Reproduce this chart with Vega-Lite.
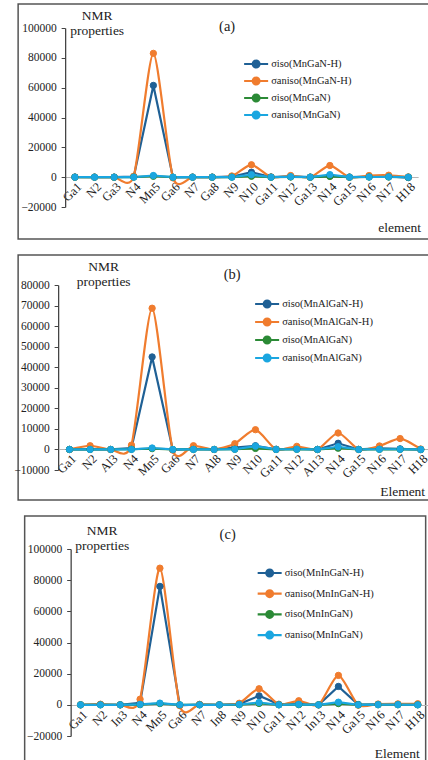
{
  "$schema": "https://vega.github.io/schema/vega-lite/v6.json",
  "padding": {"left": 13, "top": 3, "right": 0, "bottom": 0},
  "background": "white",
  "spacing": 14,
  "center": true,
  "resolve": {"scale": {"x": "independent", "y": "independent", "stroke": "independent", "fill": "independent"}, "legend": {"stroke": "independent", "fill": "independent"}},
  "config": {
    "view": {"stroke": "#555555", "strokeWidth": 1.5, "fill": "white"},
    "font": "Liberation Serif",
    "axis": {"grid": false, "labelFont": "Liberation Serif", "labelFontSize": 11.5, "labelColor": "#222222", "titleFont": "Liberation Serif", "titleFontWeight": "normal", "titleFontSize": 13.5, "titleColor": "#222222"},
    "axisY": {"tickSize": 4, "tickColor": "#444444", "domainColor": "#444444", "domainWidth": 1.3, "labelPadding": 5, "format": "d", "titleAngle": 0, "titleAlign": "center", "titleBaseline": "alphabetic", "titleLineHeight": 15},
    "legend": {"orient": "none", "title": null, "padding": 0, "labelFont": "Liberation Serif", "labelFontSize": 10.5, "labelColor": "#222222", "labelOffset": 6, "symbolType": "M-1.6,0L1.6,0M0.45,0A0.45,0.45,0,1,1,-0.45,0A0.45,0.45,0,1,1,0.45,0Z", "symbolSize": 225, "symbolStrokeWidth": 2.2},
    "title": {"font": "Liberation Serif", "fontWeight": "normal", "fontSize": 14.5, "color": "#222222", "anchor": "middle", "offset": 0, "baseline": "alphabetic"}
  },
  "datasets": {
    "a": [
      {"el":"Ga1","s":"isoH","v":100},{"el":"N2","s":"isoH","v":50},{"el":"Ga3","s":"isoH","v":50},{"el":"N4","s":"isoH","v":300},{"el":"Mn5","s":"isoH","v":61500},{"el":"Ga6","s":"isoH","v":-200},{"el":"N7","s":"isoH","v":50},{"el":"Ga8","s":"isoH","v":30},{"el":"N9","s":"isoH","v":300},{"el":"N10","s":"isoH","v":3300},{"el":"Ga11","s":"isoH","v":100},{"el":"N12","s":"isoH","v":300},{"el":"Ga13","s":"isoH","v":50},{"el":"N14","s":"isoH","v":800},{"el":"Ga15","s":"isoH","v":50},{"el":"N16","s":"isoH","v":400},{"el":"N17","s":"isoH","v":500},{"el":"H18","s":"isoH","v":-300},
      {"el":"Ga1","s":"anisoH","v":0},{"el":"N2","s":"anisoH","v":50},{"el":"Ga3","s":"anisoH","v":-50},{"el":"N4","s":"anisoH","v":600},{"el":"Mn5","s":"anisoH","v":83000},{"el":"Ga6","s":"anisoH","v":-500},{"el":"N7","s":"anisoH","v":0},{"el":"Ga8","s":"anisoH","v":0},{"el":"N9","s":"anisoH","v":800},{"el":"N10","s":"anisoH","v":8300},{"el":"Ga11","s":"anisoH","v":100},{"el":"N12","s":"anisoH","v":1100},{"el":"Ga13","s":"anisoH","v":0},{"el":"N14","s":"anisoH","v":7800},{"el":"Ga15","s":"anisoH","v":0},{"el":"N16","s":"anisoH","v":1100},{"el":"N17","s":"anisoH","v":1300},{"el":"H18","s":"anisoH","v":200},
      {"el":"Ga1","s":"iso","v":0},{"el":"N2","s":"iso","v":0},{"el":"Ga3","s":"iso","v":0},{"el":"N4","s":"iso","v":50},{"el":"Mn5","s":"iso","v":600},{"el":"Ga6","s":"iso","v":0},{"el":"N7","s":"iso","v":0},{"el":"Ga8","s":"iso","v":0},{"el":"N9","s":"iso","v":50},{"el":"N10","s":"iso","v":600},{"el":"Ga11","s":"iso","v":0},{"el":"N12","s":"iso","v":100},{"el":"Ga13","s":"iso","v":0},{"el":"N14","s":"iso","v":500},{"el":"Ga15","s":"iso","v":0},{"el":"N16","s":"iso","v":100},{"el":"N17","s":"iso","v":100},{"el":"H18","s":"iso","v":0},
      {"el":"Ga1","s":"aniso","v":0},{"el":"N2","s":"aniso","v":0},{"el":"Ga3","s":"aniso","v":0},{"el":"N4","s":"aniso","v":0},{"el":"Mn5","s":"aniso","v":1100},{"el":"Ga6","s":"aniso","v":0},{"el":"N7","s":"aniso","v":0},{"el":"Ga8","s":"aniso","v":0},{"el":"N9","s":"aniso","v":0},{"el":"N10","s":"aniso","v":1600},{"el":"Ga11","s":"aniso","v":0},{"el":"N12","s":"aniso","v":300},{"el":"Ga13","s":"aniso","v":0},{"el":"N14","s":"aniso","v":1700},{"el":"Ga15","s":"aniso","v":0},{"el":"N16","s":"aniso","v":100},{"el":"N17","s":"aniso","v":200},{"el":"H18","s":"aniso","v":0}
    ],
    "b": [
      {"el":"Ga1","s":"isoH","v":0},{"el":"N2","s":"isoH","v":200},{"el":"Al3","s":"isoH","v":0},{"el":"N4","s":"isoH","v":700},{"el":"Mn5","s":"isoH","v":45000},{"el":"Ga6","s":"isoH","v":-200},{"el":"N7","s":"isoH","v":300},{"el":"Al8","s":"isoH","v":0},{"el":"N9","s":"isoH","v":900},{"el":"N10","s":"isoH","v":1800},{"el":"Ga11","s":"isoH","v":100},{"el":"N12","s":"isoH","v":400},{"el":"Al13","s":"isoH","v":0},{"el":"N14","s":"isoH","v":3000},{"el":"Ga15","s":"isoH","v":0},{"el":"N16","s":"isoH","v":500},{"el":"N17","s":"isoH","v":300},{"el":"H18","s":"isoH","v":-100},
      {"el":"Ga1","s":"anisoH","v":0},{"el":"N2","s":"anisoH","v":1800},{"el":"Al3","s":"anisoH","v":0},{"el":"N4","s":"anisoH","v":2100},{"el":"Mn5","s":"anisoH","v":68700},{"el":"Ga6","s":"anisoH","v":-300},{"el":"N7","s":"anisoH","v":1800},{"el":"Al8","s":"anisoH","v":0},{"el":"N9","s":"anisoH","v":2800},{"el":"N10","s":"anisoH","v":9600},{"el":"Ga11","s":"anisoH","v":0},{"el":"N12","s":"anisoH","v":1500},{"el":"Al13","s":"anisoH","v":0},{"el":"N14","s":"anisoH","v":8000},{"el":"Ga15","s":"anisoH","v":0},{"el":"N16","s":"anisoH","v":1700},{"el":"N17","s":"anisoH","v":5300},{"el":"H18","s":"anisoH","v":200},
      {"el":"Ga1","s":"iso","v":0},{"el":"N2","s":"iso","v":0},{"el":"Al3","s":"iso","v":0},{"el":"N4","s":"iso","v":100},{"el":"Mn5","s":"iso","v":400},{"el":"Ga6","s":"iso","v":0},{"el":"N7","s":"iso","v":0},{"el":"Al8","s":"iso","v":0},{"el":"N9","s":"iso","v":100},{"el":"N10","s":"iso","v":500},{"el":"Ga11","s":"iso","v":0},{"el":"N12","s":"iso","v":50},{"el":"Al13","s":"iso","v":0},{"el":"N14","s":"iso","v":600},{"el":"Ga15","s":"iso","v":0},{"el":"N16","s":"iso","v":50},{"el":"N17","s":"iso","v":50},{"el":"H18","s":"iso","v":0},
      {"el":"Ga1","s":"aniso","v":0},{"el":"N2","s":"aniso","v":0},{"el":"Al3","s":"aniso","v":0},{"el":"N4","s":"aniso","v":0},{"el":"Mn5","s":"aniso","v":700},{"el":"Ga6","s":"aniso","v":0},{"el":"N7","s":"aniso","v":0},{"el":"Al8","s":"aniso","v":0},{"el":"N9","s":"aniso","v":100},{"el":"N10","s":"aniso","v":1600},{"el":"Ga11","s":"aniso","v":0},{"el":"N12","s":"aniso","v":100},{"el":"Al13","s":"aniso","v":0},{"el":"N14","s":"aniso","v":1300},{"el":"Ga15","s":"aniso","v":0},{"el":"N16","s":"aniso","v":100},{"el":"N17","s":"aniso","v":100},{"el":"H18","s":"aniso","v":0}
    ],
    "c": [
      {"el":"Ga1","s":"isoH","v":0},{"el":"N2","s":"isoH","v":200},{"el":"In3","s":"isoH","v":0},{"el":"N4","s":"isoH","v":1200},{"el":"Mn5","s":"isoH","v":76000},{"el":"Ga6","s":"isoH","v":-300},{"el":"N7","s":"isoH","v":200},{"el":"In8","s":"isoH","v":0},{"el":"N9","s":"isoH","v":500},{"el":"N10","s":"isoH","v":5800},{"el":"Ga11","s":"isoH","v":300},{"el":"N12","s":"isoH","v":800},{"el":"In13","s":"isoH","v":0},{"el":"N14","s":"isoH","v":11800},{"el":"Ga15","s":"isoH","v":200},{"el":"N16","s":"isoH","v":300},{"el":"N17","s":"isoH","v":300},{"el":"H18","s":"isoH","v":200},
      {"el":"Ga1","s":"anisoH","v":0},{"el":"N2","s":"anisoH","v":400},{"el":"In3","s":"anisoH","v":0},{"el":"N4","s":"anisoH","v":3600},{"el":"Mn5","s":"anisoH","v":87700},{"el":"Ga6","s":"anisoH","v":-500},{"el":"N7","s":"anisoH","v":300},{"el":"In8","s":"anisoH","v":0},{"el":"N9","s":"anisoH","v":1000},{"el":"N10","s":"anisoH","v":10300},{"el":"Ga11","s":"anisoH","v":300},{"el":"N12","s":"anisoH","v":2600},{"el":"In13","s":"anisoH","v":0},{"el":"N14","s":"anisoH","v":18900},{"el":"Ga15","s":"anisoH","v":-200},{"el":"N16","s":"anisoH","v":500},{"el":"N17","s":"anisoH","v":600},{"el":"H18","s":"anisoH","v":700},
      {"el":"Ga1","s":"iso","v":0},{"el":"N2","s":"iso","v":0},{"el":"In3","s":"iso","v":0},{"el":"N4","s":"iso","v":100},{"el":"Mn5","s":"iso","v":800},{"el":"Ga6","s":"iso","v":0},{"el":"N7","s":"iso","v":0},{"el":"In8","s":"iso","v":0},{"el":"N9","s":"iso","v":100},{"el":"N10","s":"iso","v":900},{"el":"Ga11","s":"iso","v":0},{"el":"N12","s":"iso","v":100},{"el":"In13","s":"iso","v":0},{"el":"N14","s":"iso","v":800},{"el":"Ga15","s":"iso","v":0},{"el":"N16","s":"iso","v":50},{"el":"N17","s":"iso","v":50},{"el":"H18","s":"iso","v":0},
      {"el":"Ga1","s":"aniso","v":0},{"el":"N2","s":"aniso","v":0},{"el":"In3","s":"aniso","v":0},{"el":"N4","s":"aniso","v":300},{"el":"Mn5","s":"aniso","v":1100},{"el":"Ga6","s":"aniso","v":0},{"el":"N7","s":"aniso","v":0},{"el":"In8","s":"aniso","v":0},{"el":"N9","s":"aniso","v":200},{"el":"N10","s":"aniso","v":1500},{"el":"Ga11","s":"aniso","v":0},{"el":"N12","s":"aniso","v":300},{"el":"In13","s":"aniso","v":0},{"el":"N14","s":"aniso","v":1700},{"el":"Ga15","s":"aniso","v":0},{"el":"N16","s":"aniso","v":100},{"el":"N17","s":"aniso","v":100},{"el":"H18","s":"aniso","v":0}
    ]
  },
  "vconcat": [
    {
      "width": 415, "height": 235,
      "title": {"text": "(a)", "dy": 34, "dx": 1.5},
      "data": {"name": "a"},
      "encoding": {
        "x": {"field": "el", "type": "nominal", "scale": {"type": "point", "domain": ["Ga1","N2","Ga3","N4","Mn5","Ga6","N7","Ga8","N9","N10","Ga11","N12","Ga13","N14","Ga15","N16","N17","H18"], "range": [47, 400], "padding": 0.5}, "axis": {"offset": -62, "ticks": false, "domainColor": "#b5b5b5", "domainWidth": 1.2, "labelAngle": -45, "labelAlign": "right", "labelBaseline": "top", "labelFontSize": 12.5, "labelPadding": 3, "labelOverlap": false, "title": "element", "titleX": 381, "titleY": 54, "titleAlign": "center", "titleBaseline": "alphabetic", "titleAngle": 0}},
        "y": {"field": "v", "type": "quantitative", "scale": {"domain": [-20000, 100000], "range": [203, 24], "nice": false, "zero": false}, "axis": {"values": [-20000, 0, 20000, 40000, 60000, 80000, 100000], "offset": -47, "title": ["NMR", "properties"], "titleX": 31.5, "titleY": 15}},
        "stroke": {"field": "s", "type": "nominal", "scale": {"domain": ["isoH","anisoH","iso","aniso"], "range": ["#1f6095","#f07c2e","#2b8a36","#1aa6e0"]}, "legend": {"legendX": 229, "legendY": 51, "rowPadding": -1, "labelExpr": "datum.value == 'isoH' ? 'σiso(MnGaN-H)' : datum.value == 'anisoH' ? 'σaniso(MnGaN-H)' : datum.value == 'iso' ? 'σiso(MnGaN)' : 'σaniso(MnGaN)'"}}
      },
      "layer": [
        {"transform": [{"filter": "datum.s == 'isoH'"}], "mark": {"type": "line", "strokeWidth": 2.2}},
        {"transform": [{"filter": "datum.s == 'anisoH'"}], "mark": {"type": "line", "strokeWidth": 2.2, "interpolate": "cardinal", "tension": 0.3}},
        {"transform": [{"filter": "datum.s == 'iso'"}], "mark": {"type": "line", "strokeWidth": 2.2}},
        {"transform": [{"filter": "datum.s == 'aniso'"}], "mark": {"type": "line", "strokeWidth": 2.2}},
        {"mark": {"type": "point", "filled": true, "size": 40, "opacity": 1, "strokeWidth": 1},
         "encoding": {"fill": {"field": "s", "type": "nominal", "scale": {"domain": ["isoH","anisoH","iso","aniso"], "range": ["#1f6095","#f07c2e","#2b8a36","#1aa6e0"]}, "legend": {"legendX": 229, "legendY": 51, "rowPadding": -1, "labelExpr": "datum.value == 'isoH' ? 'σiso(MnGaN-H)' : datum.value == 'anisoH' ? 'σaniso(MnGaN-H)' : datum.value == 'iso' ? 'σiso(MnGaN)' : 'σaniso(MnGaN)'"}}}}
      ]
    },
    {
      "width": 415, "height": 245,
      "title": {"text": "(b)", "dy": 31, "dx": 6.5},
      "data": {"name": "b"},
      "encoding": {
        "x": {"field": "el", "type": "nominal", "scale": {"type": "point", "domain": ["Ga1","N2","Al3","N4","Mn5","Ga6","N7","Al8","N9","N10","Ga11","N12","Al13","N14","Ga15","N16","N17","H18"], "range": [41, 413], "padding": 0.5}, "axis": {"offset": -51, "ticks": false, "domainColor": "#b5b5b5", "domainWidth": 1.2, "labelAngle": -45, "labelAlign": "right", "labelBaseline": "top", "labelFontSize": 12.5, "labelPadding": 3, "labelOverlap": false, "title": "Element", "titleX": 384, "titleY": 46, "titleAlign": "center", "titleBaseline": "alphabetic", "titleAngle": 0}},
        "y": {"field": "v", "type": "quantitative", "scale": {"domain": [-10000, 80000], "range": [215, 30], "nice": false, "zero": false}, "axis": {"values": [-10000, 0, 10000, 20000, 30000, 40000, 50000, 60000, 70000, 80000], "offset": -40, "title": ["NMR", "properties"], "titleX": 45, "titleY": 15}},
        "stroke": {"field": "s", "type": "nominal", "scale": {"domain": ["isoH","anisoH","iso","aniso"], "range": ["#1f6095","#f07c2e","#2b8a36","#1aa6e0"]}, "legend": {"legendX": 240, "legendY": 40, "rowPadding": 1, "labelExpr": "datum.value == 'isoH' ? 'σiso(MnAlGaN-H)' : datum.value == 'anisoH' ? 'σaniso(MnAlGaN-H)' : datum.value == 'iso' ? 'σiso(MnAlGaN)' : 'σaniso(MnAlGaN)'"}}
      },
      "layer": [
        {"transform": [{"filter": "datum.s == 'isoH'"}], "mark": {"type": "line", "strokeWidth": 2.2}},
        {"transform": [{"filter": "datum.s == 'anisoH'"}], "mark": {"type": "line", "strokeWidth": 2.2, "interpolate": "cardinal", "tension": 0.3}},
        {"transform": [{"filter": "datum.s == 'iso'"}], "mark": {"type": "line", "strokeWidth": 2.2}},
        {"transform": [{"filter": "datum.s == 'aniso'"}], "mark": {"type": "line", "strokeWidth": 2.2}},
        {"mark": {"type": "point", "filled": true, "size": 40, "opacity": 1, "strokeWidth": 1},
         "encoding": {"fill": {"field": "s", "type": "nominal", "scale": {"domain": ["isoH","anisoH","iso","aniso"], "range": ["#1f6095","#f07c2e","#2b8a36","#1aa6e0"]}, "legend": {"legendX": 240, "legendY": 40, "rowPadding": 1, "labelExpr": "datum.value == 'isoH' ? 'σiso(MnAlGaN-H)' : datum.value == 'anisoH' ? 'σaniso(MnAlGaN-H)' : datum.value == 'iso' ? 'σiso(MnAlGaN)' : 'σaniso(MnAlGaN)'"}}}}
      ]
    },
    {
      "width": 401, "height": 248,
      "title": {"text": "(c)", "dy": 30, "dx": 2.5},
      "data": {"name": "c"},
      "encoding": {
        "x": {"field": "el", "type": "nominal", "scale": {"type": "point", "domain": ["Ga1","N2","In3","N4","Mn5","Ga6","N7","In8","N9","N10","Ga11","N12","In13","N14","Ga15","N16","N17","H18"], "range": [46, 403], "padding": 0.5}, "axis": {"offset": -59, "ticks": false, "domainColor": "#b5b5b5", "domainWidth": 1.2, "labelAngle": -45, "labelAlign": "right", "labelBaseline": "top", "labelFontSize": 12.5, "labelPadding": 3, "labelOverlap": false, "title": "Element", "titleX": 372, "titleY": 52, "titleAlign": "center", "titleBaseline": "alphabetic", "titleAngle": 0}},
        "y": {"field": "v", "type": "quantitative", "scale": {"domain": [-20000, 100000], "range": [220, 33], "nice": false, "zero": false}, "axis": {"values": [-20000, 0, 20000, 40000, 60000, 80000, 100000], "offset": -46, "title": ["NMR", "properties"], "titleX": 31, "titleY": 18}},
        "stroke": {"field": "s", "type": "nominal", "scale": {"domain": ["isoH","anisoH","iso","aniso"], "range": ["#1f6095","#f07c2e","#2b8a36","#1aa6e0"]}, "legend": {"legendX": 236, "legendY": 48, "rowPadding": 3.7, "labelExpr": "datum.value == 'isoH' ? 'σiso(MnInGaN-H)' : datum.value == 'anisoH' ? 'σaniso(MnInGaN-H)' : datum.value == 'iso' ? 'σiso(MnInGaN)' : 'σaniso(MnInGaN)'"}}
      },
      "layer": [
        {"transform": [{"filter": "datum.s == 'isoH'"}], "mark": {"type": "line", "strokeWidth": 2.2}},
        {"transform": [{"filter": "datum.s == 'anisoH'"}], "mark": {"type": "line", "strokeWidth": 2.2, "interpolate": "cardinal", "tension": 0.3}},
        {"transform": [{"filter": "datum.s == 'iso'"}], "mark": {"type": "line", "strokeWidth": 2.2}},
        {"transform": [{"filter": "datum.s == 'aniso'"}], "mark": {"type": "line", "strokeWidth": 2.2}},
        {"mark": {"type": "point", "filled": true, "size": 40, "opacity": 1, "strokeWidth": 1},
         "encoding": {"fill": {"field": "s", "type": "nominal", "scale": {"domain": ["isoH","anisoH","iso","aniso"], "range": ["#1f6095","#f07c2e","#2b8a36","#1aa6e0"]}, "legend": {"legendX": 236, "legendY": 48, "rowPadding": 3.7, "labelExpr": "datum.value == 'isoH' ? 'σiso(MnInGaN-H)' : datum.value == 'anisoH' ? 'σaniso(MnInGaN-H)' : datum.value == 'iso' ? 'σiso(MnInGaN)' : 'σaniso(MnInGaN)'"}}}}
      ]
    }
  ]
}
